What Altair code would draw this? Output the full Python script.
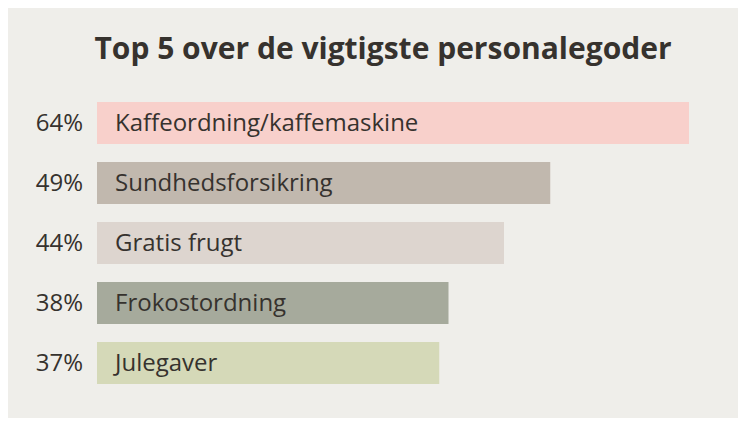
import altair as alt
import pandas as pd

categories = ["Kaffeordning/kaffemaskine", "Sundhedsforsikring", "Gratis frugt", "Frokostordning", "Julegaver"]
values = [64, 49, 44, 38, 37]
colors = ["#f8d0cb", "#c1b8ae", "#ddd5cf", "#a6aa9c", "#d5d9b8"]

df = pd.DataFrame({
    "cat": categories,
    "val": values,
    "pct": [f"{v}%" for v in values],
    "color": colors,
})

FONT = "Open Sans"
TXT = "#36322e"

y = alt.Y("cat:N", sort=categories, axis=None,
          scale=alt.Scale(paddingInner=0.3, paddingOuter=0.15))
x = alt.X("val:Q", axis=None, scale=alt.Scale(domain=[0, 64], nice=False))

base = alt.Chart(df)

bars = base.mark_bar(cornerRadius=0).encode(
    x=x, y=y,
    color=alt.Color("color:N", scale=None),
)

labels = base.mark_text(align="left", baseline="middle", dx=18, dy=1,
                        font=FONT, fontSize=24, color=TXT).encode(
    x=alt.datum(0), y=y, text="cat:N")

pcts = base.mark_text(align="right", baseline="middle", dx=-14, dy=1,
                      font=FONT, fontSize=24, color=TXT).encode(
    x=alt.datum(0), y=y, text="pct:N")

chart = alt.layer(bars, labels, pcts).properties(
    width=592, height=300,
    autosize=alt.AutoSizeParams(type="none"),
    padding={"left": 89, "top": 85, "right": 49, "bottom": 25},
    background="#efeeea",
    title=alt.TitleParams(
        "Top 5 over de vigtigste personalegoder",
        font=FONT, fontSize=30, fontWeight="bold", color=TXT,
        anchor="middle", dx=-10, offset=28,
    ),
).configure_view(stroke=None)

chart.save("out.html", embed_options={"renderer": "svg", "actions": False})
